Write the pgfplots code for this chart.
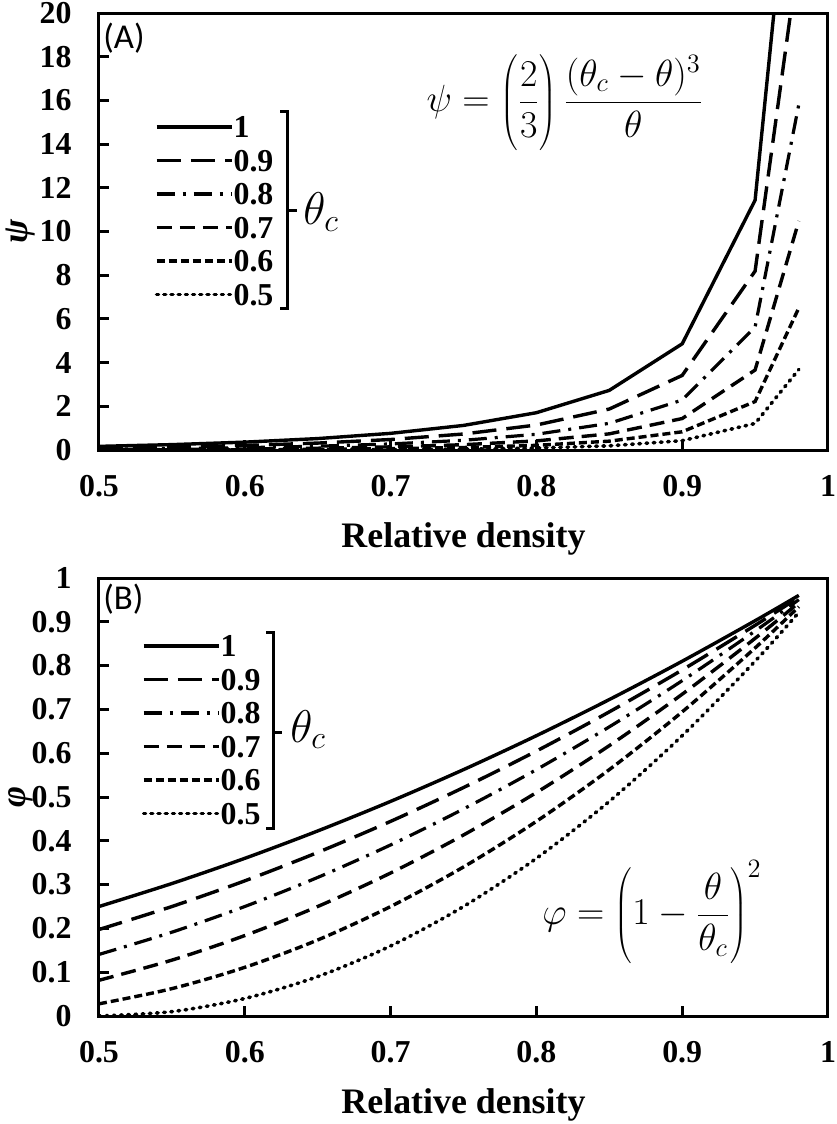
\RequirePackage{fix-cm}
\documentclass[border=0pt]{standalone}
\usepackage{pgfplots}
\pgfplotsset{compat=1.18}
\usepackage{pgfplotstable}
\usepackage[no-math]{fontspec}
\setmainfont{Liberation Serif}
\newfontfamily\calibri{Carlito}

% psi values, one column per theta_c
\pgfplotstableread{
rho  c10    c09    c08    c07    c06    c05
0.50 0.1667 0.0853 0.0360 0.0107 0.0013 0.0000
0.55 0.2465 0.1350 0.0635 0.0231 0.0050 0.0002
0.60 0.3600 0.2083 0.1067 0.0450 0.0133 0.0017
0.65 0.5231 0.3169 0.1736 0.0817 0.0298 0.0064
0.70 0.7622 0.4800 0.2778 0.1422 0.0600 0.0178
0.75 1.1250 0.7323 0.4437 0.2430 0.1143 0.0417
0.80 1.7067 1.1433 0.7200 0.4167 0.2133 0.0900
0.85 2.7294 1.8750 1.2206 0.7394 0.4050 0.1906
0.90 4.8600 3.4133 2.2867 1.4400 0.8333 0.4267
0.95 11.432 8.1883 5.6250 3.6617 2.2183 1.2150
0.98 31.373 22.716 15.818 10.481 6.5037 3.6864
}\psitable

% phi values
\pgfplotstableread{
rho  c10    c09    c08    c07    c06    c05
0.50 0.2500 0.1975 0.1406 0.0816 0.0278 0.0000
0.55 0.3025 0.2500 0.1914 0.1276 0.0625 0.0100
0.60 0.3600 0.3086 0.2500 0.1837 0.1111 0.0400
0.65 0.4225 0.3735 0.3164 0.2500 0.1736 0.0900
0.70 0.4900 0.4444 0.3906 0.3265 0.2500 0.1600
0.75 0.5625 0.5216 0.4727 0.4133 0.3403 0.2500
0.80 0.6400 0.6049 0.5625 0.5102 0.4444 0.3600
0.85 0.7225 0.6944 0.6602 0.6173 0.5625 0.4900
0.90 0.8100 0.7901 0.7656 0.7347 0.6944 0.6400
0.95 0.9025 0.8920 0.8789 0.8622 0.8403 0.8100
0.98 0.9604 0.9560 0.9506 0.9437 0.9344 0.9216
}\phitable

\tikzset{
  s10/.style={black, line width=1.7bp},
  s09/.style={black, line width=1.7bp, dash pattern=on 12bp off 5bp},
  s08/.style={black, line width=1.6bp, dash pattern=on 9bp off 4bp on 1.5bp off 4bp},
  s07/.style={black, line width=1.7bp, dash pattern=on 7.5bp off 4bp},
  s06/.style={black, line width=1.7bp, dash pattern=on 4bp off 2bp},
  s05/.style={black, line width=1.8bp, line cap=round, dash pattern=on 0.8bp off 2.8bp},
}

\pgfplotsset{
  panel/.style={
    scale only axis, width=364.5bp,
    xmin=0.5, xmax=1, xtick={0.5,0.6,0.7,0.8,0.9,1},
    axis line style={line width=1.5bp},
    every tick/.append style={black, line width=1.5bp},
    major tick length=5bp,
    tick align=inside, tick pos=left,
    /pgf/number format/assume math mode=true,
    tick label style={font=\fontsize{16}{19}\selectfont\bfseries},
    xticklabel style={inner sep=0pt, anchor=north, yshift=-12.5bp},
    yticklabel style={inner sep=0pt, anchor=east, xshift=-13.5bp},
    every axis x label/.style={at={(axis description cs:0.5,0)}, anchor=base, yshift=-48.5bp,
      font=\fontsize{18}{22}\selectfont\bfseries},
    every axis y label/.style={at={(axis description cs:-0.107,0.5)}, rotate=90, anchor=center,
      font=\fontsize{18}{22}\selectfont\bfseries\itshape},
    xlabel={Relative density},
    legend cell align=left,
    legend image code/.code={\draw[##1] (0bp,0bp) -- (33.5bp,0bp); \path (0bp,0bp) -- (37.5bp,0bp);},
    legend style={draw=none, fill=none, inner sep=0pt, outer sep=0pt, row sep=0pt, column sep=0pt,
      anchor=north west, font=\fontsize{16}{19}\selectfont\bfseries,
      nodes={inner sep=0pt, text height=13.8bp, text depth=2.95bp}},
  },
}

\begin{document}
\begin{tikzpicture}
\useasboundingbox (-49.5bp,6.5bp) rectangle (369bp,-555.5bp);

\begin{axis}[panel, at={(0,0)}, anchor=north west, height=218.5bp,
  ymin=0, ymax=20, ytick={0,2,4,6,8,10,12,14,16,18,20},
  ylabel={ψ},
  legend style={at={(axis description cs:0.0768,0.7775)}},
]
\addplot[s10] table[x=rho, y=c10] {\psitable}; \addlegendentry{1}
\addplot[s09] table[x=rho, y=c09] {\psitable}; \addlegendentry{0.9}
\addplot[s08] table[x=rho, y=c08] {\psitable}; \addlegendentry{0.8}
\addplot[s07] table[x=rho, y=c07] {\psitable}; \addlegendentry{0.7}
\addplot[s06] table[x=rho, y=c06] {\psitable}; \addlegendentry{0.6}
\addplot[s05] table[x=rho, y=c05] {\psitable}; \addlegendentry{0.5}
\node[anchor=north west, inner sep=0pt, font=\calibri\fontsize{17.5}{21}\selectfont]
  at (axis description cs:0.0055,0.979) {(A)};
\draw[line width=1.5bp] (axis description cs:0.2483,0.7735) -- (axis description cs:0.258,0.7735)
  -- (axis description cs:0.258,0.3227) -- (axis description cs:0.2483,0.3227);
\draw[line width=1.5bp] (axis description cs:0.258,0.547) -- (axis description cs:0.2716,0.547);
\node[anchor=base west, inner sep=0pt, font=\fontsize{23}{27}\selectfont]
  at (axis description cs:0.2798,0.515) {$\theta_c$};
\node[font=\fontsize{19}{23}\selectfont] at (axis description cs:0.639,0.7963)
  {$\displaystyle \psi = \left(\vrule height 29bp depth 19bp width 0pt\frac{2}{3}\right)\frac{(\theta_c-\theta)^3}{\theta}$};
\end{axis}

\begin{axis}[panel, at={(0,-282.5bp)}, anchor=north west, height=219bp,
  ymin=0, ymax=1, ytick={0,0.1,0.2,0.3,0.4,0.5,0.6,0.7,0.8,0.9,1},
  ylabel={φ},
  legend style={at={(axis description cs:0.059,0.883)}},
]
\addplot[s10, smooth] table[x=rho, y=c10] {\phitable}; \addlegendentry{1}
\addplot[s09, smooth] table[x=rho, y=c09] {\phitable}; \addlegendentry{0.9}
\addplot[s08, smooth] table[x=rho, y=c08] {\phitable}; \addlegendentry{0.8}
\addplot[s07, smooth] table[x=rho, y=c07] {\phitable}; \addlegendentry{0.7}
\addplot[s06, smooth] table[x=rho, y=c06] {\phitable}; \addlegendentry{0.6}
\addplot[s05, smooth] table[x=rho, y=c05] {\phitable}; \addlegendentry{0.5}
\node[anchor=north west, inner sep=0pt, font=\calibri\fontsize{17.5}{21}\selectfont]
  at (axis description cs:0.0055,0.988) {(B)};
\draw[line width=1.5bp] (axis description cs:0.2291,0.8767) -- (axis description cs:0.2387,0.8767)
  -- (axis description cs:0.2387,0.4292) -- (axis description cs:0.2291,0.4292);
\draw[line width=1.5bp] (axis description cs:0.2387,0.6484) -- (axis description cs:0.251,0.6484);
\node[anchor=base west, inner sep=0pt, font=\fontsize{23}{27}\selectfont]
  at (axis description cs:0.262,0.6256) {$\theta_c$};
\node[font=\fontsize{19}{23}\selectfont] at (axis description cs:0.7586,0.2374)
  {$\displaystyle \varphi = \left(\vrule height 28bp depth 18bp width 0pt 1-\frac{\theta}{\theta_c}\right)^{2}$};
\end{axis}
\end{tikzpicture}
\end{document}
